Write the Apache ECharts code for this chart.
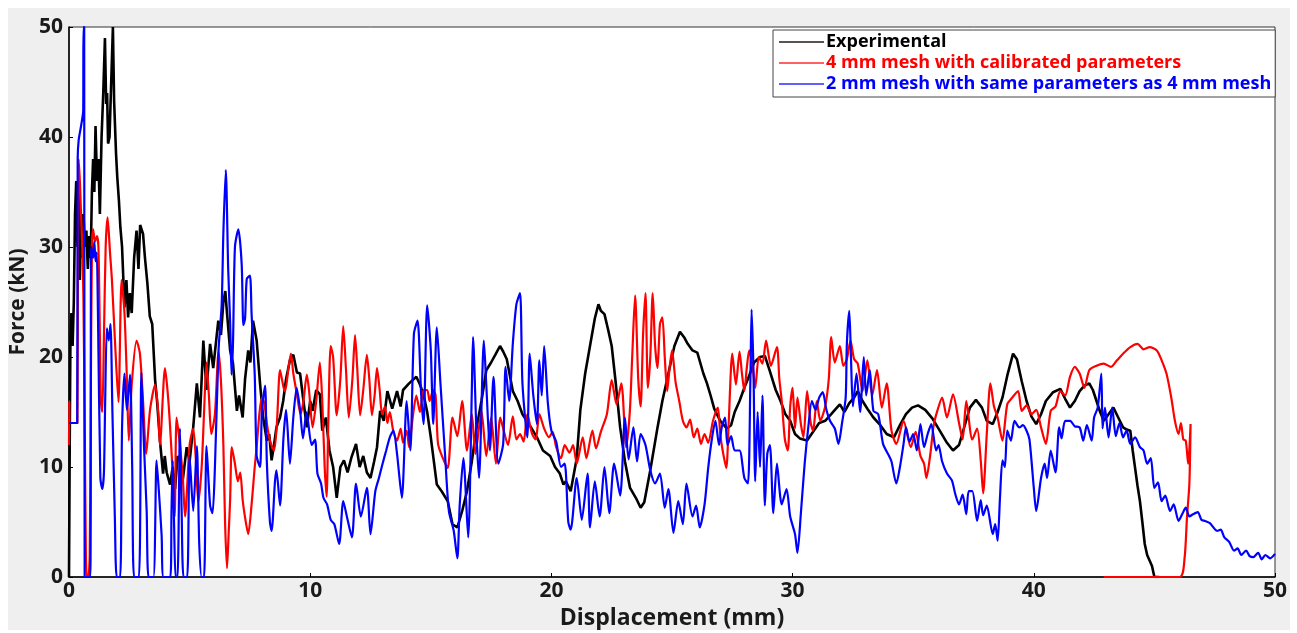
<!DOCTYPE html>
<html>
<head>
<meta charset="utf-8">
<script src="https://cdn.jsdelivr.net/npm/echarts@6/dist/echarts.min.js"></script>
<style>
  html, body { margin: 0; padding: 0; background: #fff; }
  #chart { position: absolute; left: 8px; top: 8px; width: 1282px; height: 622px; }
</style>
</head>
<body>
<div id="chart"></div>
<script>
// [displacement mm, force kN]
var experimental = [[0,0],[0.03,12],[0.06,22],[0.1,24],[0.15,21],[0.2,25],[0.25,33],[0.3,36],[0.35,30],[0.41,35.8],[0.45,27],[0.5,33],[0.55,29],[0.6,33],[0.66,30],[0.72,31.5],[0.78,28],[0.84,31],[0.9,29],[0.95,35],[1.0,38],[1.05,35],[1.1,41],[1.16,36],[1.22,38],[1.28,33],[1.35,40],[1.42,44],[1.49,49],[1.54,43],[1.58,44],[1.62,39.4],[1.68,40],[1.75,45],[1.82,50],[1.87,43.3],[1.95,38.5],[2.0,36.4],[2.07,34.2],[2.13,31.8],[2.2,30],[2.3,24.5],[2.38,27],[2.45,23.6],[2.52,25.8],[2.6,24],[2.7,29],[2.8,31.5],[2.88,28],[2.95,32],[3.07,31.2],[3.15,29],[3.25,26.7],[3.35,23.7],[3.45,23],[3.57,17.9],[3.65,16],[3.77,12.4],[3.9,9.4],[3.97,11],[4.05,9.5],[4.19,8.4],[4.3,10],[4.4,8],[4.5,11],[4.6,10.6],[4.7,8.5],[4.88,11.8],[5.0,10.5],[5.15,13.6],[5.3,17.6],[5.43,14.5],[5.57,21.5],[5.7,17],[5.85,21.2],[5.98,19],[6.19,23.3],[6.3,22],[6.4,25],[6.48,26],[6.55,24],[6.68,20.6],[6.8,19.4],[6.96,15.1],[7.05,16.5],[7.2,14.5],[7.3,18],[7.43,20.6],[7.52,19.5],[7.63,23.3],[7.78,21.5],[7.92,17.6],[8.05,14.5],[8.2,12.4],[8.3,13],[8.4,10.6],[8.5,12],[8.6,13.6],[8.75,14.5],[8.88,16],[9.0,18],[9.16,19.7],[9.3,20.2],[9.45,18.6],[9.58,18.5],[9.72,16],[9.86,13.6],[10.0,16],[10.1,15.1],[10.25,17],[10.4,16.6],[10.5,13.3],[10.65,14.5],[10.8,11.5],[10.95,10],[11.1,7.2],[11.25,10],[11.4,10.6],[11.55,9.5],[11.7,10.8],[11.9,12.1],[12.05,10],[12.2,11],[12.35,9.5],[12.5,9],[12.65,10.5],[12.77,11.8],[12.9,15.1],[13.05,14.2],[13.2,16.9],[13.4,15.3],[13.6,16.9],[13.75,15.5],[13.85,17],[14.1,17.6],[14.4,18.2],[14.55,17.5],[14.7,16.6],[14.85,15],[15.0,12.7],[15.25,8.4],[15.45,7.8],[15.7,6.9],[15.9,4.8],[16.1,4.5],[16.3,6],[16.5,7.8],[16.7,10.5],[16.9,13.6],[17.1,16],[17.3,18.8],[17.5,19.5],[17.7,20.3],[17.87,21],[18.0,20.5],[18.15,19.8],[18.4,16.9],[18.6,16],[18.8,14.8],[19.1,13.8],[19.4,12.7],[19.65,11.5],[19.95,11],[20.15,10],[20.35,9.4],[20.5,8.4],[20.6,8.7],[20.8,7.8],[21.05,10.8],[21.2,15.2],[21.4,18.5],[21.6,21],[21.8,23.5],[21.95,24.8],[22.05,24.2],[22.2,23.9],[22.35,22.5],[22.5,21],[22.65,18],[22.85,13.6],[23.05,10.5],[23.26,8.1],[23.5,7.2],[23.7,6.3],[23.85,6.8],[24.1,9.7],[24.4,13.6],[24.6,16],[24.78,17.8],[24.95,19.5],[25.1,21],[25.33,22.3],[25.5,21.8],[25.65,21.2],[25.85,20.6],[26.05,20.4],[26.3,18.5],[26.45,17.6],[26.6,16.5],[26.75,15.3],[27.0,14.2],[27.27,13.5],[27.45,13.8],[27.6,15],[27.8,16],[28.0,17.2],[28.2,18.3],[28.4,19.5],[28.65,20],[28.85,20.1],[29.06,18.7],[29.3,17],[29.5,16],[29.7,14.8],[29.9,14.2],[30.1,13],[30.3,12.6],[30.6,12.4],[30.85,13.2],[31.1,14],[31.35,14.2],[31.6,14.8],[31.8,15.3],[31.96,15.7],[32.15,15],[32.35,15.8],[32.55,16.3],[32.7,16.9],[32.9,16],[33.1,15.3],[33.35,14.5],[33.6,13.9],[33.9,13],[34.2,12.7],[34.45,13.8],[34.7,14.8],[34.95,15.4],[35.2,15.6],[35.5,15.2],[35.8,14.4],[36.1,13.3],[36.4,12.2],[36.65,11.5],[36.9,12],[37.1,13.5],[37.35,15.4],[37.6,16.1],[37.85,15.4],[38.05,14.2],[38.3,13.9],[38.5,15],[38.7,16.3],[38.9,18.3],[39.14,20.3],[39.3,19.8],[39.5,17.8],[39.7,16],[39.9,14.6],[40.1,13.9],[40.3,14.8],[40.5,16],[40.8,16.8],[41.1,17.1],[41.3,16.2],[41.5,15.4],[41.7,16],[41.9,16.9],[42.1,17.4],[42.3,17.6],[42.45,17],[42.6,16],[42.75,15],[42.9,14.2],[43.1,14.8],[43.3,15.4],[43.5,14.5],[43.7,13.6],[43.85,13.4],[44.0,13.3],[44.1,11.5],[44.2,9.9],[44.3,8.3],[44.4,6.9],[44.5,5],[44.6,3],[44.7,2],[44.8,1.5],[44.9,1],[45.0,0],[45.2,0]];

var mesh4mm = [[0,12],[0.01,16],[0.02,14],[0.35,14],[0.37,30],[0.4,38],[0.45,36],[0.5,33],[0.55,30],[0.6,25],[0.66,12],[0.7,2],[0.74,0],[0.8,0],[0.86,2],[0.9,15],[0.95,30],[1.0,31.6],[1.08,30.5],[1.16,31],[1.22,30],[1.28,22],[1.32,16],[1.38,15],[1.45,22],[1.52,30],[1.6,32.7],[1.7,29.5],[1.78,27],[1.9,21.7],[2.05,15.9],[2.18,27],[2.3,24],[2.4,18],[2.48,12.4],[2.6,17.5],[2.8,21.5],[2.94,20.3],[3.07,16],[3.2,11.2],[3.36,15.2],[3.57,17.5],[3.7,15],[3.77,12],[3.98,19],[4.12,16],[4.27,10.6],[4.38,5.5],[4.46,14.5],[4.6,12],[4.72,9],[4.81,5.5],[5.0,12],[5.15,13.5],[5.25,11],[5.36,6.8],[5.5,10],[5.6,15],[5.7,19.5],[5.8,16.5],[5.9,13],[6.05,14.8],[6.2,20.5],[6.3,17.8],[6.4,12],[6.47,5],[6.55,0.8],[6.62,4],[6.68,7],[6.75,11.8],[6.88,10.3],[7.0,8.7],[7.1,9.5],[7.2,7],[7.3,5.4],[7.43,3.9],[7.57,6.6],[7.7,10],[7.78,11.8],[7.9,15],[8.0,16.3],[8.1,15.8],[8.2,14],[8.33,12.4],[8.5,11.5],[8.62,14],[8.75,18.8],[8.9,17.2],[8.96,16.9],[9.1,19],[9.2,20.3],[9.3,18.5],[9.45,16.6],[9.6,14.8],[9.72,16],[9.86,18.4],[9.95,17],[10.1,13.6],[10.25,16],[10.4,19.5],[10.5,16],[10.6,10],[10.68,7.3],[10.75,14],[10.85,21],[10.95,20],[11.1,14.7],[11.25,18],[11.37,22.8],[11.48,19],[11.6,14.5],[11.75,18],[11.86,22],[11.95,19],[12.07,14.7],[12.2,17],[12.35,20.2],[12.45,18],[12.56,14.7],[12.67,16.5],[12.77,19],[12.88,17],[12.98,14.8],[13.1,15.5],[13.2,14],[13.3,15],[13.45,13.2],[13.6,12.4],[13.75,13.5],[13.85,12.2],[14.0,13.3],[14.1,11.8],[14.25,14.5],[14.4,16.5],[14.55,15],[14.7,17],[14.85,17],[14.95,16],[15.1,17],[15.2,16.5],[15.3,12.1],[15.5,10.8],[15.7,9.9],[15.9,14.5],[16.1,12.8],[16.3,16],[16.5,11.5],[16.7,14.8],[16.85,11.2],[17.1,15.1],[17.3,11],[17.5,14.5],[17.7,10.3],[17.88,14.5],[18.0,13.5],[18.2,12],[18.4,14.6],[18.55,12.5],[18.7,13],[18.85,12.3],[19.0,14.8],[19.2,13],[19.35,12.5],[19.5,14.8],[19.7,13.5],[19.9,12.7],[20.05,13.2],[20.2,11.8],[20.4,10.8],[20.55,12],[20.75,11.3],[20.9,12],[21.05,10.3],[21.3,12.7],[21.45,10.8],[21.7,13.3],[21.85,11.7],[22.05,13.2],[22.3,14.8],[22.5,17.9],[22.7,15.7],[22.9,17.6],[23.1,11.8],[23.25,15],[23.35,20],[23.47,25.6],[23.6,18],[23.7,15.5],[23.8,22],[23.9,25.8],[24.0,17.2],[24.1,20],[24.2,25.8],[24.3,21],[24.4,19],[24.5,23],[24.6,23.6],[24.7,20],[24.8,16.9],[24.9,19],[25.0,20.6],[25.15,17.7],[25.3,16],[25.45,14.2],[25.6,13.6],[25.75,14.3],[25.9,12.7],[26.05,13.5],[26.2,12.1],[26.35,13],[26.5,12.2],[26.7,14.2],[26.9,15.4],[27.0,13],[27.1,11.5],[27.25,9.9],[27.35,14],[27.5,20.3],[27.65,17.5],[27.8,20.5],[27.9,18.5],[28.0,16.9],[28.1,19],[28.2,20.6],[28.35,19],[28.45,17.2],[28.6,20],[28.75,19.4],[28.9,21.5],[29.1,19.2],[29.35,20.9],[29.45,18],[29.55,16],[29.68,12.5],[29.8,11.5],[29.9,15.5],[30.0,17.2],[30.1,13.5],[30.2,16.3],[30.35,13.8],[30.45,12.7],[30.6,16.9],[30.75,14],[30.85,13.3],[31.0,16],[31.15,14.2],[31.35,15.5],[31.5,18],[31.6,21.8],[31.75,19.5],[31.96,21],[32.1,19.2],[32.25,19.8],[32.4,21.5],[32.55,19.8],[32.7,19.4],[32.9,16.9],[33.1,19.7],[33.3,16.5],[33.5,18.8],[33.7,15.4],[33.9,17.6],[34.1,13.3],[34.3,12.1],[34.6,14.2],[34.9,11.8],[35.1,13.2],[35.3,11],[35.45,10.3],[35.55,9],[35.7,11],[35.85,13.8],[36.0,15.1],[36.2,16.3],[36.4,14.5],[36.65,16.6],[36.9,14],[37.05,12.5],[37.2,16],[37.45,12.5],[37.65,13.5],[37.8,10.6],[37.9,7.6],[38.05,13],[38.2,17.6],[38.35,15.5],[38.5,14.5],[38.7,12.4],[38.9,15.7],[39.1,16.3],[39.35,16.9],[39.5,15.1],[39.7,15.6],[39.9,14.8],[40.1,15.2],[40.3,13.6],[40.5,12.1],[40.7,15.1],[40.9,15.5],[41.1,16.9],[41.3,16.5],[41.5,18.2],[41.7,19.1],[41.9,18.5],[42.1,17.2],[42.3,18.8],[42.6,19.2],[42.9,19.4],[43.2,19.1],[43.45,19.7],[43.7,20.3],[44.0,20.9],[44.3,21.2],[44.55,20.7],[44.8,20.9],[45.1,20.6],[45.3,19.7],[45.5,18.5],[45.7,16.3],[45.85,14.2],[46.0,13],[46.1,14],[46.2,12.5],[46.3,12.4],[46.4,10.3],[46.5,13.9],[46.45,8.5],[46.35,5.4],[46.25,1.7],[46.05,0],[42.9,0]];

var mesh2mm = [[0,14],[0.34,14],[0.36,38],[0.4,39.7],[0.5,41],[0.59,42.4],[0.6,50],[0.63,50],[0.65,0],[0.88,0],[0.92,30],[1.0,29],[1.05,30.5],[1.1,28.7],[1.15,29.5],[1.2,24],[1.3,9],[1.38,8],[1.45,9.6],[1.5,16],[1.57,22.6],[1.65,21.5],[1.72,23],[1.8,15],[1.9,5.5],[1.98,0],[2.12,0],[2.2,13.6],[2.3,18.5],[2.4,15.2],[2.53,18.4],[2.62,10],[2.7,0],[2.9,0],[3.0,18.6],[3.1,12.4],[3.22,6],[3.3,0],[3.5,0],[3.63,10.6],[3.72,8],[3.84,3.8],[3.92,0],[4.2,0],[4.25,6],[4.3,10.6],[4.36,4.5],[4.42,0],[4.5,0],[4.6,13.5],[4.67,6],[4.75,0],[4.9,0],[5.0,11],[5.15,6],[5.3,11.9],[5.4,3],[5.5,0],[5.6,0],[5.7,11.9],[5.85,6.5],[5.95,5.8],[6.05,10],[6.2,20.6],[6.33,24.8],[6.4,31.3],[6.5,37],[6.6,28],[6.68,23.2],[6.74,18.4],[6.8,21.3],[6.88,30],[7.02,31.6],[7.16,28.4],[7.23,22.9],[7.3,23.5],[7.37,27.1],[7.5,27.4],[7.57,23.9],[7.7,18.4],[7.78,11],[7.92,10],[8.0,15.2],[8.13,17.4],[8.2,10.6],[8.33,5],[8.4,4.2],[8.54,8.7],[8.6,9.7],[8.75,6.5],[8.89,12.6],[9.0,15.2],[9.16,10.3],[9.3,14.5],[9.44,17.2],[9.58,15.2],[9.7,12.6],[9.85,15],[10.06,12],[10.2,12.5],[10.3,9.4],[10.45,8.5],[10.55,7.2],[10.7,6.6],[10.85,5.2],[11.0,4.8],[11.2,3],[11.37,6.9],[11.55,5.2],[11.73,3.6],[11.9,8.5],[12.1,5.5],[12.35,8.1],[12.5,3.9],[12.7,7.8],[12.85,9],[13.0,10.3],[13.15,11.5],[13.3,12.7],[13.45,13.3],[13.6,11.2],[13.8,7.2],[14.0,16],[14.15,11.5],[14.3,22.1],[14.45,23.3],[14.6,16.6],[14.7,13.9],[14.85,24.7],[15.0,20.6],[15.1,13.9],[15.25,22.7],[15.4,17.6],[15.6,10.8],[15.75,6],[15.95,4.2],[16.1,1.7],[16.2,6.6],[16.35,10.8],[16.55,3.6],[16.7,16.9],[16.75,21.8],[16.9,12.7],[17.0,9],[17.2,21.5],[17.3,17.5],[17.45,11.5],[17.6,18.2],[17.8,10.3],[18.0,12.1],[18.1,19.1],[18.25,16],[18.4,21.2],[18.55,24.8],[18.7,25.8],[18.8,17.6],[19.0,12.7],[19.1,20.3],[19.25,16.5],[19.4,13.9],[19.5,19.7],[19.6,16.5],[19.7,21],[19.85,15.9],[20.0,13.3],[20.2,12.3],[20.4,10],[20.55,10.3],[20.7,5],[20.8,4.3],[21.05,9],[21.26,5.2],[21.5,9.4],[21.6,4.5],[21.8,8.7],[22.0,5.5],[22.2,10],[22.4,5.8],[22.6,10.3],[22.85,7.4],[23.05,14.5],[23.2,10.7],[23.4,13.6],[23.55,10.5],[23.7,13],[23.9,12],[24.1,9.7],[24.3,8.5],[24.5,9.4],[24.7,6.3],[24.85,8],[25.06,4],[25.26,6.9],[25.45,4.8],[25.6,8.5],[25.85,5.5],[26.0,6.5],[26.15,4.5],[26.35,6.6],[26.5,9.9],[26.65,12.5],[26.8,14.2],[26.95,12],[27.06,13.6],[27.2,14.5],[27.3,12],[27.45,12.8],[27.6,11.5],[27.8,11.5],[28.0,9],[28.15,8.5],[28.25,18],[28.3,24.3],[28.38,18.5],[28.45,8.7],[28.55,15],[28.65,10],[28.75,16.5],[28.85,6.5],[28.95,11.2],[29.06,12],[29.2,5.8],[29.35,10.3],[29.55,6.6],[29.75,8],[29.9,5.5],[30.1,3.9],[30.2,2.2],[30.35,6],[30.5,10.3],[30.65,13.6],[30.8,16],[30.95,15.2],[31.1,16.3],[31.25,16.8],[31.4,15.2],[31.55,14.2],[31.75,13.5],[31.9,12.1],[32.05,14],[32.2,16.3],[32.25,21.2],[32.35,24.2],[32.42,20],[32.5,15.5],[32.65,18.5],[32.8,15],[32.95,20],[33.05,16.5],[33.2,18.8],[33.35,15.1],[33.55,14.8],[33.75,12.1],[34.0,11],[34.1,10.5],[34.3,8.5],[34.45,10],[34.6,12.1],[34.7,13.6],[34.85,12.3],[35.0,13],[35.15,11.5],[35.3,13.9],[35.45,11.8],[35.6,13],[35.75,13.9],[35.95,11.5],[36.05,12],[36.2,10.5],[36.4,9.4],[36.6,8.8],[36.75,7.5],[36.9,6.6],[37.05,7.5],[37.2,5.7],[37.3,7.8],[37.45,7.8],[37.65,5.1],[37.8,7],[37.9,5.6],[38.05,6.5],[38.3,3.9],[38.4,4.8],[38.5,3.3],[38.6,7.3],[38.7,10.6],[38.8,10],[38.9,13.3],[39.05,12.4],[39.2,14.2],[39.4,13.6],[39.55,13.8],[39.7,13.3],[39.82,12.5],[40.0,8.1],[40.1,6],[40.3,9],[40.45,10.3],[40.55,9],[40.7,11.5],[40.9,9.5],[41.05,13.6],[41.15,12.6],[41.3,14.2],[41.5,14.2],[41.7,13.7],[41.9,13.6],[42.05,12.4],[42.2,13.8],[42.4,12.4],[42.5,14.5],[42.65,15.4],[42.8,18.5],[42.85,13.5],[42.95,15.4],[43.1,12.7],[43.25,15.4],[43.4,12.8],[43.55,14],[43.7,12.7],[43.85,13.3],[44.0,12.1],[44.2,12.7],[44.4,11.8],[44.55,11.5],[44.7,10.3],[44.85,10.8],[45.0,8.1],[45.15,8.6],[45.3,6.9],[45.45,7.4],[45.65,6],[45.8,6.6],[46.0,5.1],[46.15,5.7],[46.3,6.3],[46.45,5.5],[46.6,5.7],[46.8,5.9],[46.95,5.2],[47.1,5.1],[47.3,4.9],[47.6,4.2],[47.75,4.3],[47.9,3.6],[48.1,3.2],[48.3,2.4],[48.45,2.6],[48.6,2],[48.8,2.4],[48.95,1.9],[49.1,1.8],[49.3,2.2],[49.45,1.6],[49.6,2],[49.8,1.7],[50,2.1]];

var seriesNames = ['Experimental', '4 mm mesh with calibrated parameters', '2 mm mesh with same parameters as 4 mm mesh'];
var seriesColors = ['#000000', '#ff0000', '#0000ff'];
var legendLineColors = ['#555555', '#ff6060', '#6060ff'];
var seriesWidths = [2.6, 2.2, 2.2];
var seriesData = [experimental, mesh4mm, mesh2mm];

var font = '"Open Sans", "Noto Sans", sans-serif';

var chart = echarts.init(document.getElementById('chart'));

var option = {
    backgroundColor: '#efefef',
    animation: false,
    textStyle: { fontFamily: font },
    grid: {
        left: 61, top: 19, width: 1206, height: 550,
        containLabel: false,
        outerBoundsMode: 'none',
        show: true,
        backgroundColor: '#ffffff',
        borderColor: '#333333',
        borderWidth: 1
    },
    legend: {
        orient: 'vertical',
        left: 765, top: 22,
        padding: [3, 4, 4, 6],
        itemGap: 3,
        itemWidth: 45,
        itemHeight: 2,
        icon: 'rect',
        backgroundColor: '#ffffff',
        borderColor: '#444444',
        borderWidth: 1,
        textStyle: { fontSize: 18, fontWeight: 'bold', fontFamily: font, padding: [0, 0, 0, -3] },
        data: seriesNames.map(function (n, i) {
            return { name: n, itemStyle: { color: legendLineColors[i] }, textStyle: { color: seriesColors[i] } };
        })
    },
    xAxis: {
        type: 'value',
        min: 0, max: 50, interval: 10,
        name: 'Displacement (mm)',
        nameLocation: 'middle',
        nameGap: 30,
        nameTextStyle: { fontSize: 23, fontWeight: 'bold', color: '#1a1a1a', fontFamily: font },
        axisLine: { lineStyle: { color: '#000', width: 1.5 } },
        axisTick: { inside: true, length: 4, lineStyle: { color: '#000' } },
        axisLabel: { fontSize: 21, fontWeight: 'bold', color: '#1a1a1a', margin: 4 },
        splitLine: { show: false }
    },
    yAxis: {
        type: 'value',
        min: 0, max: 50, interval: 10,
        name: 'Force (kN)',
        nameLocation: 'middle',
        nameGap: 34,
        nameTextStyle: { fontSize: 21, fontWeight: 'bold', color: '#1a1a1a', fontFamily: font },
        axisLine: { show: true, lineStyle: { color: '#000', width: 1.5 } },
        axisTick: { show: true, inside: true, length: 4, lineStyle: { color: '#000' } },
        axisLabel: { fontSize: 21, fontWeight: 'bold', color: '#1a1a1a', margin: 6 },
        splitLine: { show: false }
    },
    series: seriesNames.map(function (n, i) {
        return {
            name: n,
            type: 'line',
            data: seriesData[i],
            showSymbol: false,
            clip: true,
            smooth: i === 0 ? false : 0.25,
            lineStyle: { color: seriesColors[i], width: seriesWidths[i] },
            itemStyle: { color: seriesColors[i] },
            z: 2 + i
        };
    })
};

chart.setOption(option);
</script>
</body>
</html>
